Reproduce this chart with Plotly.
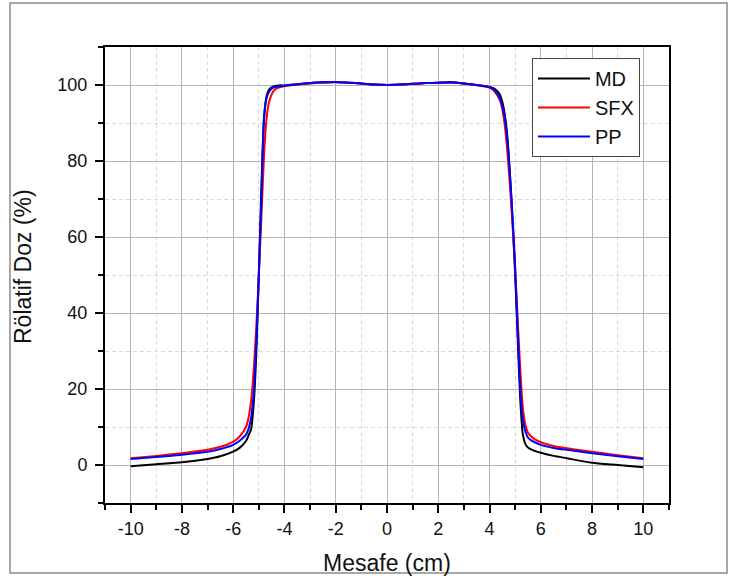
import plotly.graph_objects as go

# Distance (cm) sample positions
x_cm = [-10, -9, -8, -7, -6.5, -6, -5.75, -5.5, -5.4, -5.3, -5.2, -5.1, -5.0, -4.9, -4.8,
        -4.7, -4.6, -4.5, -4.4, -4.2, -4.0, -3.5, -3, -2.5, -2, -1.5, -1, -0.5, 0, 0.5,
        1, 1.5, 2, 2.5, 3, 3.5, 4, 4.2, 4.4, 4.5, 4.6, 4.7, 4.8, 4.9, 5.0, 5.1, 5.2,
        5.3, 5.4, 5.5, 5.75, 6, 6.5, 7, 8, 9, 10]

md = [-0.3, 0.2, 0.7, 1.6, 2.3, 3.5, 4.5, 6.3, 7.8, 9.5, 16, 29, 50, 73, 91,
      97, 98.8, 99.4, 99.7, 99.9, 99.9, 100.2, 100.5, 100.7, 100.8, 100.6, 100.4, 100.1, 100.0, 100.1,
      100.3, 100.5, 100.6, 100.7, 100.4, 100.0, 99.5, 99.0, 97.5, 95.5, 92, 86, 76, 64, 50, 33, 17,
      8, 5.5, 4.6, 3.7, 3.2, 2.4, 1.8, 0.6, 0.0, -0.6]

sfx = [1.8, 2.4, 3.1, 4.0, 4.8, 6.1, 7.5, 10, 12.5, 17, 25, 36, 50, 65, 81,
       91, 95.5, 97.5, 98.6, 99.4, 99.7, 100.1, 100.4, 100.6, 100.7, 100.6, 100.4, 100.1, 100.0, 100.1,
       100.3, 100.5, 100.6, 100.6, 100.4, 99.9, 99.3, 98.3, 96, 93.5, 89, 82, 73, 63, 51, 38, 25,
       15, 10.5, 8.5, 6.8, 6.0, 5.0, 4.4, 3.5, 2.6, 1.8]

pp = [1.6, 2.1, 2.7, 3.5, 4.2, 5.3, 6.4, 8.0, 9.5, 12.5, 19, 32, 50, 70, 91,
      96.5, 98.2, 99.0, 99.4, 99.7, 99.8, 100.2, 100.5, 100.7, 100.8, 100.6, 100.4, 100.1, 100.0, 100.1,
      100.3, 100.5, 100.6, 100.7, 100.4, 100.0, 99.4, 98.6, 96.5, 94.5, 91, 85, 76, 65, 52, 35, 20,
      12, 8.8, 7.2, 6.0, 5.3, 4.5, 4.0, 3.1, 2.3, 1.6]

series_names = ["MD", "SFX", "PP"]
series_values = [md, sfx, pp]
series_colors = ["#000000", "#ff0000", "#0000ff"]

x_tick_vals = [-10, -8, -6, -4, -2, 0, 2, 4, 6, 8, 10]
x_tick_text = ["-10", "-8", "-6", "-4", "-2", "0", "2", "4", "6", "8", "10"]
y_tick_vals = [0, 20, 40, 60, 80, 100]
y_tick_text = ["0", "20", "40", "60", "80", "100"]

x_title = "Mesafe (cm)"
y_title = "Rölatif Doz (%)"

FONT = "Arial, Liberation Sans, sans-serif"

fig = go.Figure()
for name, vals, col in zip(series_names, series_values, series_colors):
    fig.add_trace(go.Scatter(x=x_cm, y=vals, name=name, mode="lines",
                             line=dict(color=col, width=2, shape="spline", smoothing=0.6)))

axis_common = dict(
    showline=True, linewidth=2, linecolor="black", mirror=True,
    ticks="outside", ticklen=8, tickwidth=1.5, tickcolor="black",
    showgrid=True, gridcolor="#b4b4b4", gridwidth=1,
    zeroline=False, automargin=False,
    tickfont=dict(family=FONT, size=18, color="#111"),
)

minor_common = dict(ticks="outside", ticklen=5, tickwidth=1.5, tickcolor="black",
                    showgrid=True, gridcolor="#dadada", griddash="4px,3px", gridwidth=1)

fig.update_xaxes(range=[-11, 11], tickvals=x_tick_vals, ticktext=x_tick_text,
                 minor=dict(dtick=1, tick0=1, **minor_common), **axis_common)
fig.update_yaxes(range=[-10, 110], tickvals=y_tick_vals, ticktext=y_tick_text,
                 ticklabelstandoff=4,
                 minor=dict(dtick=10, tick0=10, **minor_common), **axis_common)

fig.update_layout(
    width=730, height=578,
    margin=dict(l=105, r=61, t=47, b=75),
    paper_bgcolor="white", plot_bgcolor="white",
    legend=dict(x=0.757, y=0.976, xanchor="left", yanchor="top",
                bgcolor="white", bordercolor="#444", borderwidth=1,
                font=dict(family=FONT, size=20, color="#111"),
                itemwidth=52, tracegroupgap=0),
    showlegend=True,
)

# axis titles
fig.add_annotation(text=x_title, xref="paper", yref="paper", x=0.5, y=(503 - 563) / 456,
                   xanchor="center", yanchor="middle", showarrow=False,
                   font=dict(family=FONT, size=23, color="#111"))
fig.add_annotation(text=y_title, xref="paper", yref="paper", x=(23 - 105) / 564,
                   y=1 - (267 - 47) / 456, textangle=-90,
                   xanchor="center", yanchor="middle", showarrow=False,
                   font=dict(family=FONT, size=23, color="#111"))

# outer image frame
fig.add_shape(type="rect", xref="paper", yref="paper",
              x0=(10 - 105) / 564, x1=(727 - 105) / 564,
              y0=(503 - 573) / 456, y1=1 + (47 - 3) / 456,
              line=dict(color="#8a8a8a", width=1.5), layer="below")

fig.write_html("out.html", config={"displayModeBar": False},
               post_script="document.body.style.margin='0';document.body.style.overflow='hidden';")
